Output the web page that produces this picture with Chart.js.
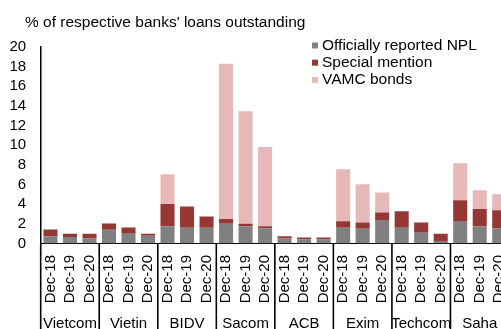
<!DOCTYPE html>
<html>
<head>
<meta charset="utf-8">
<script src="https://cdn.jsdelivr.net/npm/chart.js@4.4.1/dist/chart.umd.min.js"></script>
<style>
    html, body { margin: 0; padding: 0; background: #fff; overflow: hidden; }
    /* plot runs a bit past the right edge of the window, as in the reference */
    #chart { display: block; width: 520px; height: 329px; }
</style>
</head>
<body>
<canvas id="chart" width="520" height="329"></canvas>
<script>
// Dữ liệu
const banks = ['Vietcom', 'Vietin', 'BIDV', 'Sacom', 'ACB', 'Exim', 'Techcom', 'Saha'];
const periods = ['Dec-18', 'Dec-19', 'Dec-20'];

// % of loans, 3 periods per bank, in bank order
const nplValues = [
    0.75, 0.65, 0.5,
    1.4, 1.0, 0.8,
    1.75, 1.6, 1.6,
    2.0, 1.75, 1.55,
    0.5, 0.4, 0.4,
    1.6, 1.5, 2.4,
    1.6, 1.1, 0.25,
    2.3, 1.75, 1.55
];
const specialValues = [
    0.67, 0.35, 0.5,
    0.63, 0.63, 0.2,
    2.28, 2.16, 1.15,
    0.5, 0.25, 0.21,
    0.24, 0.2, 0.2,
    0.67, 0.63, 0.75,
    1.69, 1.03, 0.75,
    2.1, 1.77, 1.84
];
const vamcValues = [
    0, 0, 0,
    0, 0, 0,
    3.02, 0, 0,
    15.8, 11.46, 8.07,
    0, 0, 0,
    5.29, 3.9, 2.04,
    0, 0, 0,
    3.77, 1.9, 1.62
];
const seriesNames = ['Officially reported NPL', 'Special mention', 'VAMC bonds'];
const yTitle = "% of respective banks' loans outstanding";

const FONT = "'Liberation Sans', Arial, sans-serif";
const colors = ['#808080', '#953735', '#E6B9B8'];

const labels = [];
banks.forEach(() => periods.forEach(p => labels.push(p)));

// Vẽ tiêu đề, chú thích, đường phân cách nhóm
const decorPlugin = {
    id: 'decor',
    afterDraw(chart) {
        const ctx = chart.ctx;
        const area = chart.chartArea;
        const xs = chart.scales.x;
        const h = chart.height;

        ctx.save();
        ctx.fillStyle = '#000';
        ctx.textBaseline = 'alphabetic';

        // title
        ctx.font = '15.5px ' + FONT;
        ctx.textAlign = 'left';
        ctx.fillText(yTitle, 25, 26.5);

        // legend
        chart.data.datasets.forEach((ds, i) => {
            const base = 49.5 + i * 17.2;
            ctx.fillStyle = ds.backgroundColor;
            ctx.fillRect(312, base - 7, 6, 6);
            ctx.fillStyle = '#000';
            ctx.fillText(ds.label, 322, base);
        });

        // group separators below the axis
        ctx.strokeStyle = '#000';
        ctx.lineWidth = 1.6;
        for (let i = 0; i <= banks.length; i++) {
            const px = xs.getPixelForValue(i * periods.length - 0.5);
            ctx.beginPath();
            ctx.moveTo(px, area.bottom);
            ctx.lineTo(px, h);
            ctx.stroke();
        }

        // group labels
        ctx.font = '15px ' + FONT;
        ctx.textAlign = 'center';
        banks.forEach((b, i) => {
            const px = xs.getPixelForValue(i * periods.length + 1);
            ctx.fillText(b, px, 328);
        });
        ctx.restore();
    }
};

const ctx = document.getElementById('chart').getContext('2d');
new Chart(ctx, {
    type: 'bar',
    data: {
        labels: labels,
        datasets: [
            { label: seriesNames[0], data: nplValues, backgroundColor: colors[0] },
            { label: seriesNames[1], data: specialValues, backgroundColor: colors[1] },
            { label: seriesNames[2], data: vamcValues, backgroundColor: colors[2] }
        ]
    },
    options: {
        responsive: false,
        devicePixelRatio: 1,
        animation: false,
        layout: { padding: { top: 47, right: 11, left: 0, bottom: 0 } },
        datasets: {
            bar: { barPercentage: 0.72, categoryPercentage: 1.0, borderWidth: 0 }
        },
        scales: {
            x: {
                stacked: true,
                grid: { display: false, drawTicks: false },
                border: { display: true, color: '#000', width: 1 },
                ticks: {
                    autoSkip: false,
                    minRotation: 90,
                    maxRotation: 90,
                    padding: 11.5,
                    color: '#000',
                    font: { family: FONT, size: 15 }
                },
                afterFit(scale) {
                    scale.height = 85.5;
                    // no extra room for the rotated end labels
                    scale.paddingLeft = 0;
                    scale.paddingRight = 0;
                }
            },
            y: {
                stacked: true,
                min: 0,
                max: 20,
                grid: { display: false, drawTicks: false },
                border: { display: true, color: '#000', width: 1.5 },
                ticks: {
                    stepSize: 2,
                    autoSkip: false,
                    padding: 14.5,
                    color: '#000',
                    font: { family: FONT, size: 15 }
                },
                afterFit(scale) { scale.width = 40.7; }
            }
        },
        plugins: {
            legend: { display: false },
            tooltip: { enabled: false },
            title: { display: false }
        }
    },
    plugins: [decorPlugin]
});
</script>
</body>
</html>
